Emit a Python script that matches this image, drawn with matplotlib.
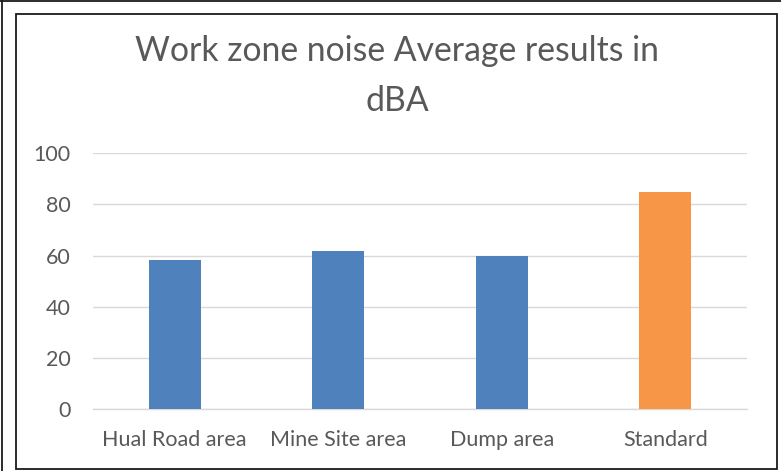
import matplotlib
matplotlib.use('Agg')
import matplotlib.pyplot as plt
from matplotlib.lines import Line2D
from matplotlib.patches import Rectangle

matplotlib.rc('font', family=['Lato', 'DejaVu Sans'])

categories = ['Hual Road area', 'Mine Site area', 'Dump area', 'Standard']
noise_dba = [58.3, 61.9, 59.8, 85.0]
bar_colors = ['#4F81BD', '#4F81BD', '#4F81BD', '#F79646']
y_ticks = [0, 20, 40, 60, 80, 100]
title = 'Work zone noise Average results in\ndBA'

fig = plt.figure(figsize=(7.81, 4.71), dpi=100)

# frame lines around the chart, like the pasted Excel picture
fig.patches.append(Rectangle((16 / 781, 2 / 471), 761 / 781, 455 / 471,
                             transform=fig.transFigure, fill=False,
                             edgecolor='#1a1a1a', linewidth=1.3))
fig.lines.append(Line2D([2 / 781, 2 / 781], [0, 1], transform=fig.transFigure,
                        color='#1a1a1a', linewidth=1.3))
fig.lines.append(Line2D([0, 1], [1 - 0.5 / 471, 1 - 0.5 / 471],
                        transform=fig.transFigure, color='#1a1a1a', linewidth=1.3))

ax = fig.add_axes([93 / 781, 62 / 471, 654 / 781, 255.7 / 471])
x = range(len(categories))
ax.bar(x, noise_dba, width=0.32, color=bar_colors, zorder=3)

ax.set_xlim(-0.5, len(categories) - 0.5)
ax.set_ylim(0, 100)
ax.set_yticks(y_ticks)
ax.set_xticks(list(x))
ax.set_xticklabels(categories)
ax.yaxis.grid(True, color='#D9D9D9', linewidth=1.0, zorder=0)
ax.tick_params(axis='both', length=0, labelsize=15.5, labelcolor='#595959')
ax.tick_params(axis='x', pad=15)
ax.tick_params(axis='y', pad=16)
for side in ['top', 'right', 'left']:
    ax.spines[side].set_visible(False)
ax.spines['bottom'].set_color('#D9D9D9')
ax.spines['bottom'].set_linewidth(1.0)

fig.text(397 / 781, 1 - 76 / 471, title, ha='center', va='center',
         fontsize=24.3, color='#595959', linespacing=1.7)

fig.savefig('out.png', dpi=100)
